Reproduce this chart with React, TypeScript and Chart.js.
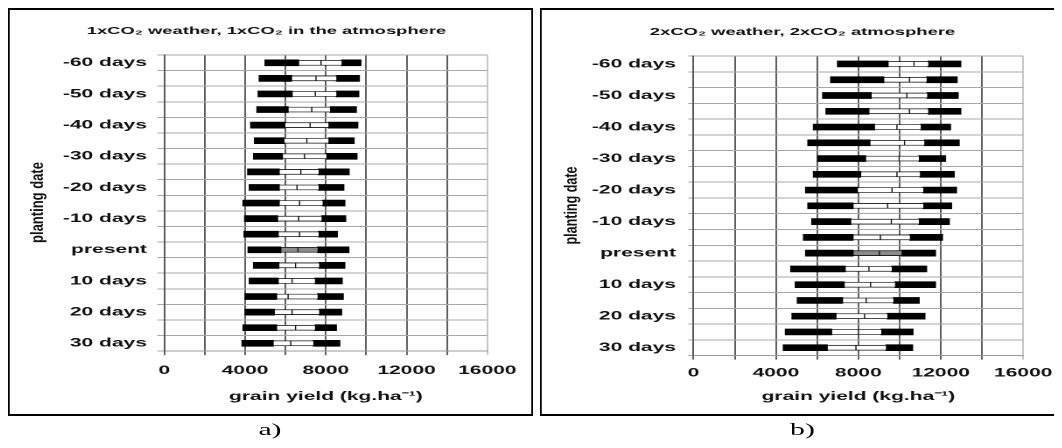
import React, { useEffect, useRef } from 'react';
import { Chart, registerables } from 'chart.js';

Chart.register(...registerables);

// ---------- data ----------
const plantingDates = [
  '-60 days', '-55 days', '-50 days', '-45 days', '-40 days', '-35 days', '-30 days',
  '-25 days', '-20 days', '-15 days', '-10 days', '-5 days', 'present', '5 days',
  '10 days', '15 days', '20 days', '25 days', '30 days',
];
const yTickLabels = [
  '-60 days', '', '-50 days', '', '-40 days', '', '-30 days', '', '-20 days', '',
  '-10 days', '', 'present', '', '10 days', '', '20 days', '', '30 days',
];
const xLabelledTicks = [0, 4000, 8000, 12000, 16000];

// panel a) 1xCO2 weather, 1xCO2 atmosphere (kg/ha)
const a_min = [4990, 4700, 4650, 4590, 4280, 4470, 4420, 4130, 4210, 3900, 3980, 3950, 4150, 4420, 4210, 4000, 4000, 3900, 3850];
const a_q1 = [6650, 6300, 6330, 6130, 5970, 5930, 5850, 5690, 5690, 5690, 5610, 5640, 5770, 5670, 5640, 5560, 5450, 5560, 5390];
const a_median = [7760, 7510, 7480, 7300, 7220, 7060, 6940, 6760, 6570, 6700, 6650, 6700, 6620, 6500, 6330, 6130, 6330, 6500, 6260];
const a_q3 = [8780, 8520, 8520, 8210, 8130, 8130, 8030, 7640, 7640, 7840, 7790, 7640, 7590, 7670, 7460, 7590, 7670, 7460, 7380];
const a_max = [9740, 9660, 9630, 9510, 9580, 9400, 9540, 9150, 8890, 8940, 8980, 8570, 9140, 8940, 8810, 8860, 8780, 8520, 8690];

// panel b) 2xCO2 weather, 2xCO2 atmosphere (kg/ha)
const b_min = [6990, 6660, 6270, 6430, 5820, 5550, 6030, 5820, 5440, 5550, 5740, 5340, 5440, 4720, 4940, 5040, 4780, 4460, 4360];
const b_q1 = [9440, 9230, 8620, 8510, 8780, 8560, 8350, 8110, 7950, 7740, 7630, 7740, 7740, 7360, 7310, 7230, 6910, 6700, 6490];
const b_median = [10700, 10480, 10350, 10480, 9870, 10240, 9980, 9870, 9630, 9420, 9600, 9070, 9020, 8510, 8590, 8380, 8300, 8000, 7880];
const b_q3 = [11390, 11310, 11340, 11390, 11030, 11200, 10940, 10990, 11150, 11150, 10940, 10500, 10100, 9620, 9780, 9700, 9410, 9110, 9340];
const b_max = [12970, 12790, 12840, 12970, 12470, 12890, 12230, 12650, 12760, 12520, 12410, 12080, 11740, 11310, 11740, 10950, 11230, 10650, 10630];

const titleA = '1xCO\u2082 weather, 1xCO\u2082 in the atmosphere';
const titleB = '2xCO\u2082 weather, 2xCO\u2082 atmosphere';
const xTitle = 'grain yield (kg.ha\u207B\u00B9)';
const yTitle = 'planting date';

// ---------- styling ----------
const STRETCH = 1.75; // the reference is horizontally stretched
const FONT = '"Liberation Sans", Arial, Helvetica, sans-serif';
const TEXT = '#111111';
const CANVAS_W = 298;
const CANVAS_H = 404;

interface Layout {
  padLeft: number; padRight: number; padBottom: number;
  titleTop: number; titleBottom: number;
  yWidth: number; xHeight: number;
  xTickPad: number; yTickPad: number; yTickLen: number;
  yTitleX: number; yTitleY: number; yTitleLen: number;
}

interface Spec {
  title: string;
  min: number[]; q1: number[]; median: number[]; q3: number[]; max: number[];
  layout: Layout;
}

const specA: Spec = {
  title: titleA, min: a_min, q1: a_q1, median: a_median, q3: a_q3, max: a_max,
  layout: {
    padLeft: 18.6, padRight: 23.2, padBottom: 10.1, titleTop: 14.7, titleBottom: 17.7,
    yWidth: 69.7, xHeight: 52.8, xTickPad: 8.4, yTickPad: 5.9, yTickLen: 4,
    yTitleX: 16.1, yTitleY: 192.5, yTitleLen: 81,
  },
};
const specB: Spec = {
  title: titleB, min: b_min, q1: b_q1, median: b_median, q3: b_q3, max: b_max,
  layout: {
    padLeft: 19.7, padRight: 19.7, padBottom: 10.1, titleTop: 15.7, titleBottom: 17.8,
    yWidth: 67, xHeight: 48.3, xTickPad: 6.2, yTickPad: 7, yTickLen: 3,
    yTitleX: 17, yTitleY: 195.5, yTitleLen: 78,
  },
};

function buildConfig(spec: Spec): any {
  const lay = spec.layout;
  const fills = plantingDates.map((d) => (d === 'present' ? '#8a8a8a' : '#ffffff'));
  const boldFont = { family: FONT, size: 12, weight: 'bold' as const };

  const yTitlePlugin = {
    id: 'stretchedYTitle',
    afterDraw(chart: any) {
      const ctx = chart.ctx as CanvasRenderingContext2D;
      ctx.save();
      ctx.font = `bold 18px ${FONT}`;
      const w = ctx.measureText(yTitle).width;
      ctx.translate(lay.yTitleX, lay.yTitleY);
      ctx.scale(1 / STRETCH, 1);
      ctx.rotate(-Math.PI / 2);
      ctx.scale(lay.yTitleLen / w, 1);
      ctx.fillStyle = TEXT;
      ctx.textAlign = 'center';
      ctx.textBaseline = 'middle';
      ctx.fillText(yTitle, 0, 0);
      ctx.restore();
    },
  };

  return {
    type: 'bar',
    data: {
      labels: plantingDates,
      datasets: [
        {
          label: 'minimum to lower quartile',
          data: spec.min.map((v, i) => [v, spec.q1[i]]),
          backgroundColor: '#000000',
          borderWidth: 0,
          barThickness: 6,
          grouped: false,
        },
        {
          label: 'lower quartile to median',
          data: spec.q1.map((v, i) => [v, spec.median[i]]),
          backgroundColor: fills,
          borderColor: '#111111',
          borderWidth: { top: 0.8, bottom: 0.8, left: 0, right: 0.65 },
          borderSkipped: false,
          barThickness: 5,
          grouped: false,
        },
        {
          label: 'median to upper quartile',
          data: spec.median.map((v, i) => [v, spec.q3[i]]),
          backgroundColor: fills,
          borderColor: '#111111',
          borderWidth: { top: 0.8, bottom: 0.8, left: 0.65, right: 0 },
          borderSkipped: false,
          barThickness: 5,
          grouped: false,
        },
        {
          label: 'upper quartile to maximum',
          data: spec.q3.map((v, i) => [v, spec.max[i]]),
          backgroundColor: '#000000',
          borderWidth: 0,
          barThickness: 6,
          grouped: false,
        },
      ],
    },
    options: {
      indexAxis: 'y',
      animation: false,
      responsive: false,
      devicePixelRatio: 2,
      events: [],
      layout: { padding: { left: lay.padLeft, right: lay.padRight, top: 0, bottom: lay.padBottom } },
      plugins: {
        legend: { display: false },
        tooltip: { enabled: false },
        title: {
          display: true,
          text: spec.title,
          color: TEXT,
          font: { family: FONT, size: 10.5, weight: 'bold' },
          padding: { top: lay.titleTop, bottom: lay.titleBottom },
        },
      },
      scales: {
        x: {
          type: 'linear',
          min: 0,
          max: 16000,
          afterFit: (s: any) => { s.height = lay.xHeight; },
          ticks: {
            stepSize: 2000,
            autoSkip: false,
            maxRotation: 0,
            padding: lay.xTickPad,
            color: TEXT,
            font: boldFont,
            callback: (v: any) => (xLabelledTicks.includes(Number(v)) ? String(v) : ''),
          },
          grid: {
            color: (c: any) => (c.tick && c.tick.value === 16000 ? '#c6c6c6' : '#606060'),
            lineWidth: 1,
            tickLength: 4,
          },
          border: { color: '#9a9a9a', width: 1 },
          title: { display: true, text: xTitle, color: TEXT, font: boldFont, padding: 0 },
        },
        y: {
          type: 'category',
          afterFit: (s: any) => { s.width = lay.yWidth; },
          ticks: {
            autoSkip: false,
            padding: lay.yTickPad,
            color: TEXT,
            font: boldFont,
            callback: (_v: any, i: number) => yTickLabels[i],
          },
          grid: { offset: true, color: '#a8a8a8', lineWidth: 1, tickLength: lay.yTickLen },
          border: { color: '#5a5a5a', width: 1 },
          title: { display: false },
        },
      },
    },
    plugins: [yTitlePlugin],
  };
}

function Panel({ spec, left }: { spec: Spec; left: number }) {
  const ref = useRef<HTMLCanvasElement>(null);
  useEffect(() => {
    const chart = new Chart(ref.current as HTMLCanvasElement, buildConfig(spec));
    return () => chart.destroy();
  }, [spec]);
  return (
    <div
      style={{
        position: 'absolute',
        left,
        top: 0,
        width: 300,
        height: 408,
        boxSizing: 'border-box',
        borderStyle: 'solid',
        borderColor: '#000',
        borderWidth: '2px 1px',
        background: '#fff',
      }}
    >
      <canvas ref={ref} width={CANVAS_W} height={CANVAS_H} style={{ position: 'absolute', left: 0, top: 0 }} />
    </div>
  );
}

const captionStyle: React.CSSProperties = {
  position: 'absolute',
  top: 412,
  width: 40,
  height: 20,
  lineHeight: '20px',
  textAlign: 'center',
  fontFamily: '"Liberation Serif", "Times New Roman", serif',
  fontSize: 17,
  color: '#000',
};

export default function App() {
  return (
    <div style={{ position: 'relative', width: 1054, height: 440, marginBottom: -8, overflow: 'hidden', background: '#fff' }}>
      <div
        style={{
          position: 'absolute',
          left: 0,
          top: 0,
          width: 1054 / STRETCH,
          height: 440,
          transform: `scaleX(${STRETCH})`,
          transformOrigin: '0 0',
        }}
      >
        <Panel spec={specA} left={0} />
        <Panel spec={specB} left={304} />
        <div style={{ ...captionStyle, left: 129.7 }}>a)</div>
        <div style={{ ...captionStyle, left: 434 }}>b)</div>
      </div>
    </div>
  );
}
